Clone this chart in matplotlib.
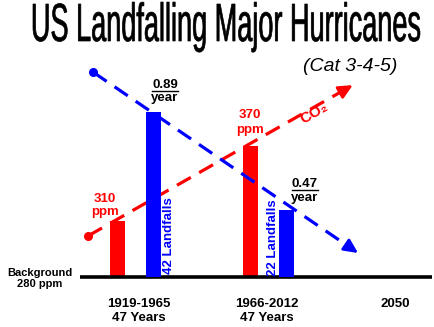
import matplotlib
matplotlib.use('Agg')
import matplotlib.pyplot as plt
from matplotlib.font_manager import FontProperties
from matplotlib.textpath import TextPath
from matplotlib.patches import PathPatch
from matplotlib.transforms import Affine2D
from matplotlib.lines import Line2D

# Two 47-year periods plus the 2050 projection
periods = ['1919-1965\n47 Years', '1966-2012\n47 Years', '2050']
years_per_period = 47
co2_ppm = [310, 370]
landfalls = [42, 22]
background_ppm = 280

# Trend arrows, x in period units
co2_trend_x = [-0.36, 1.63]
co2_trend_ppm = [298, 419]
hur_trend_x = [-0.32, 1.67]
hur_trend_n = [50.1, 13.2]

RED = '#ff0000'
BLUE = '#0000ff'
W, H = 434, 327
FONT = ['Liberation Sans', 'DejaVu Sans']


def px(x, y):
    # pixel position (from top-left) -> figure fraction
    return x / W, 1 - y / H


fig = plt.figure(figsize=(W / 100, H / 100), dpi=100)
ax = fig.add_axes([0, 0, 1, 1])
ax.set_xlim(-1.0226, 2.2406)
ax.set_ylim(224.87, 487.31)
ax.axis('off')
ax2 = ax.twinx()
ax2.set_ylim(-1.91, 64.88)
ax2.axis('off')

ppm_floor = 265
n_floor = 8.3
bw = 0.113
xs = range(len(co2_ppm))

ax.bar([x - 0.14 for x in xs], [p - ppm_floor for p in co2_ppm], bottom=ppm_floor,
       width=bw, color=RED, zorder=2)
ax2.bar([x + 0.13 for x in xs], [n - n_floor for n in landfalls], bottom=n_floor,
        width=bw, color=BLUE, zorder=2)

# baseline
ax.plot([-0.42, 2.226], [ppm_floor, ppm_floor], color='black', lw=2.6,
        solid_capstyle='butt', zorder=3)


def trend(a, xs_, ys_, color):
    x0, x1 = xs_
    y0, y1 = ys_
    xe = x1 - (x1 - x0) * 0.04
    ye = y1 - (y1 - y0) * 0.04
    a.plot([x0, xe], [y0, ye], color=color, lw=2.3, dashes=(5, 3), zorder=4)
    a.plot(x0, y0, 'o', color=color, ms=5.5, zorder=4)
    a.annotate('', xy=(x1, y1), xytext=(xe, ye),
               arrowprops=dict(arrowstyle='-|>,head_length=0.42,head_width=0.2',
                               mutation_scale=20, color=color, lw=2.0,
                               shrinkA=0, shrinkB=0), zorder=5)


trend(ax, co2_trend_x, co2_trend_ppm, RED)
trend(ax2, hur_trend_x, hur_trend_n, BLUE)

# title, squeezed horizontally
fp = FontProperties(family='Liberation Sans')
tp = TextPath((0, 0), 'US Landfalling Major Hurricanes', size=100, prop=fp)
ext = tp.get_extents()
cap = TextPath((0, 0), 'H', size=100, prop=fp).get_extents().height
tr = Affine2D().translate(-ext.x0, 0).scale(387 / ext.width, 37 / cap).translate(33, H - 41)
fig.add_artist(PathPatch(tp, transform=tr, fc='black', ec='black', lw=0.5))

fig.text(*px(350, 71), '(Cat 3-4-5)', ha='center', va='baseline', fontsize=14,
         style='italic', family=FONT)

bold = dict(ha='center', va='baseline', fontweight='bold', family=FONT)

# CO2 labels
fig.text(*px(105, 202), str(co2_ppm[0]), color=RED, fontsize=9.5, **bold)
fig.text(*px(105, 215), 'ppm', color=RED, fontsize=9.5, **bold)
fig.text(*px(250, 118), str(co2_ppm[1]), color=RED, fontsize=9.5, **bold)
fig.text(*px(250, 133), 'ppm', color=RED, fontsize=9.5, **bold)
fig.text(*px(314, 113), 'CO₂', color=RED, fontsize=11, rotation=30,
         rotation_mode='anchor', ha='center', va='center', fontweight='bold', family=FONT)

# landfall rates
for cx, base, n in [(165, 88, landfalls[0]), (304.5, 187, landfalls[1])]:
    fig.text(*px(cx, base), f'{n / years_per_period:.2f}', color='black', fontsize=9.5, **bold)
    fig.add_artist(Line2D([(cx - 13) / W, (cx + 13) / W], [1 - (base + 2.5) / H] * 2,
                          color='black', lw=1.0))
    fig.text(*px(cx, base + 13.5), 'year', color='black', fontsize=9.5, **bold)

fig.text(*px(169, 236), f'{landfalls[0]} Landfalls', color=BLUE, fontsize=9.5,
         rotation=90, ha='center', va='center', fontweight='bold', family=FONT)
fig.text(*px(273, 238), f'{landfalls[1]} Landfalls', color=BLUE, fontsize=9.5,
         rotation=90, ha='center', va='center', fontweight='bold', family=FONT)

fig.text(*px(40, 276), 'Background', color='black', fontsize=8, **bold)
fig.text(*px(40, 287), f'{background_ppm} ppm', color='black', fontsize=8, **bold)

# period labels
for cx, lab in zip([139, 267, 395], periods):
    lines = lab.split('\n')
    fig.text(*px(cx, 307), lines[0], color='black', fontsize=9.5, **bold)
    if len(lines) > 1:
        fig.text(*px(cx, 321), lines[1], color='black', fontsize=9.5, **bold)

fig.savefig('out.png', dpi=100)
